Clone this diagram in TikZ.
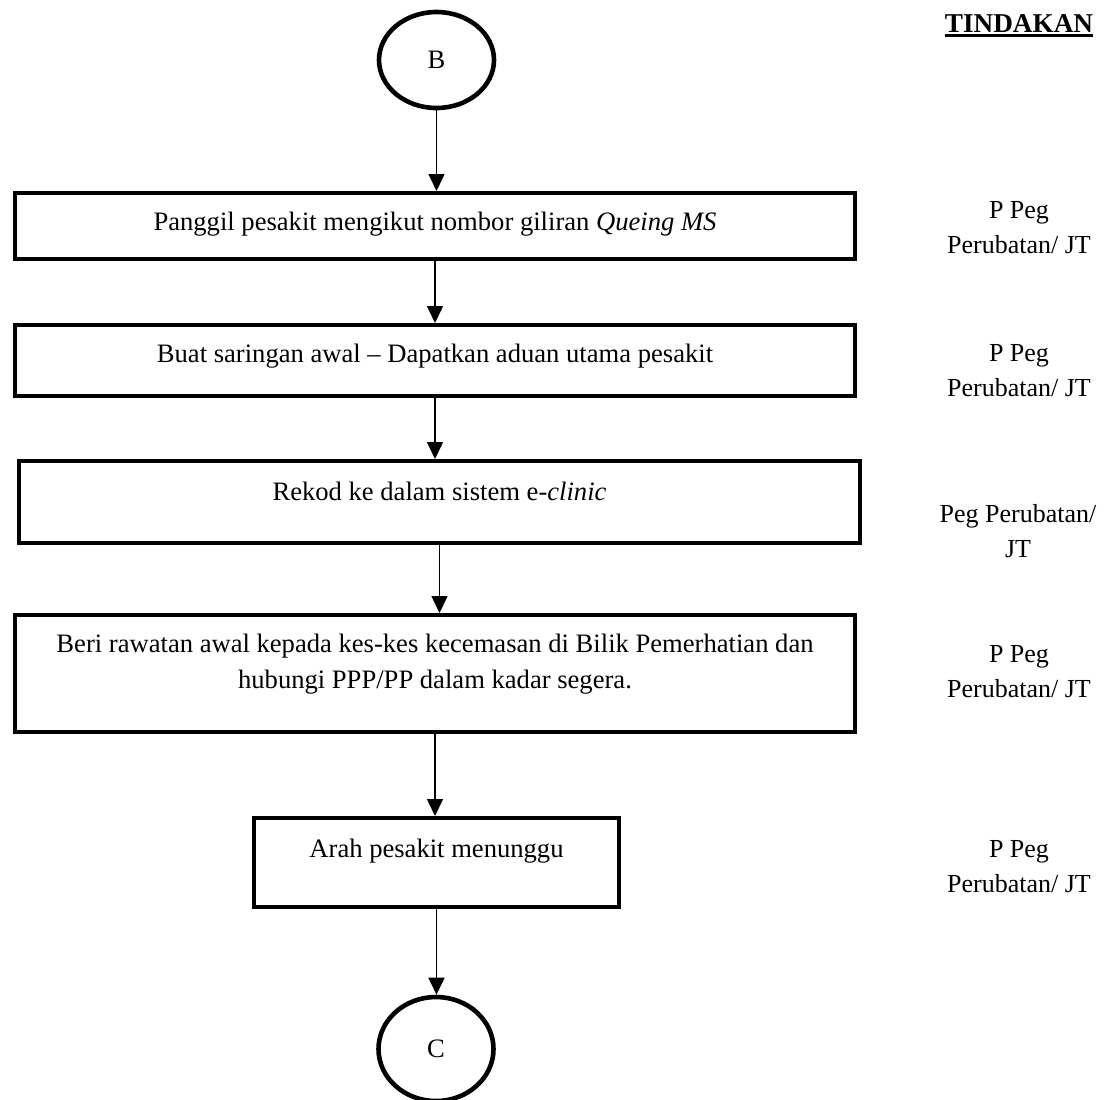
\documentclass[tikz,border=0pt]{standalone}
\usepackage{fontspec}
\setmainfont{Liberation Serif}
\usetikzlibrary{arrows.meta,shapes.geometric}

\begin{document}
\begin{tikzpicture}[x=0.5pt,y=-0.5pt,
    font=\fontsize{13.3}{18}\selectfont,
    proc/.style={draw,line width=2pt,inner sep=0pt,align=center},
    conn/.style={draw,ellipse,line width=2.3pt,inner sep=0pt,minimum width=57.5pt},
    who/.style={anchor=base,align=center,inner sep=0pt,font=\fontsize{13}{17.5}\selectfont},
    flow/.style={-{Triangle[length=8.5pt,width=8pt]},line width=0.75pt}]
    \useasboundingbox (0,0) rectangle (1111,1099);
    % define the connectors.
    \node[conn,minimum height=48pt] (b) at (436.5,60) {B};
    \node[conn,minimum height=52pt] (c) at (436,1049) {C};
    % draw the steps
    \node[proc,minimum width=420pt,minimum height=33pt,text height=4pt,text depth=0pt] (p1) at (435,226)
        {Panggil pesakit mengikut nombor giliran \textit{Queing MS}};
    \node[proc,minimum width=420pt,minimum height=35.5pt,text height=1.5pt,text depth=0pt] (p2) at (435,360.5)
        {Buat saringan awal -- Dapatkan aduan utama pesakit};
    \node[proc,minimum width=420.5pt,minimum height=41pt,text height=0pt,text depth=2pt] (p3) at (439.5,502)
        {Rekod ke dalam sistem e-\textit{clinic}};
    \node[proc,minimum width=420pt,minimum height=58.5pt,text height=14.5pt,text depth=0pt] (p4) at (435,673.5)
        {Beri rawatan awal kepada kes-kes kecemasan di Bilik Pemerhatian dan\\
         hubungi PPP/PP dalam kadar segera.};
    \node[proc,minimum width=182.5pt,minimum height=44.5pt,text height=0pt,text depth=5.5pt] (p5) at (436.5,862.5)
        {Arah pesakit menunggu};
    % draw the actions
    \node[who,font=\fontsize{13.6}{18}\selectfont\bfseries] (hd) at (1019,32) {TINDAKAN};
    \draw[line width=1.5pt] ([yshift=-1.5pt]hd.base west) -- ([yshift=-1.5pt]hd.base east);
    \node[who] (a1) at (1019,253) {P Peg\\Perubatan/ JT};
    \node[who] (a2) at (1019,396) {P Peg\\Perubatan/ JT};
    \node[who] (a3) at (1018,557) {Peg Perubatan/\\JT};
    \node[who] (a4) at (1019,697) {P Peg\\Perubatan/ JT};
    \node[who] (a5) at (1019,892) {P Peg\\Perubatan/ JT};
    % draw the arrows
    \draw[flow] (b.south) -- (b.south |- p1.north);
    \draw[flow] (p1.south) -- (p1.south |- p2.north);
    \draw[flow] (p2.south) -- (p2.south |- p3.north);
    \draw[flow] (p3.south) -- (p3.south |- p4.north);
    \draw[flow] (p4.south) -- (p4.south |- p5.north);
    \draw[flow] (p5.south) -- (p5.south |- c.north);
\end{tikzpicture}
\end{document}
